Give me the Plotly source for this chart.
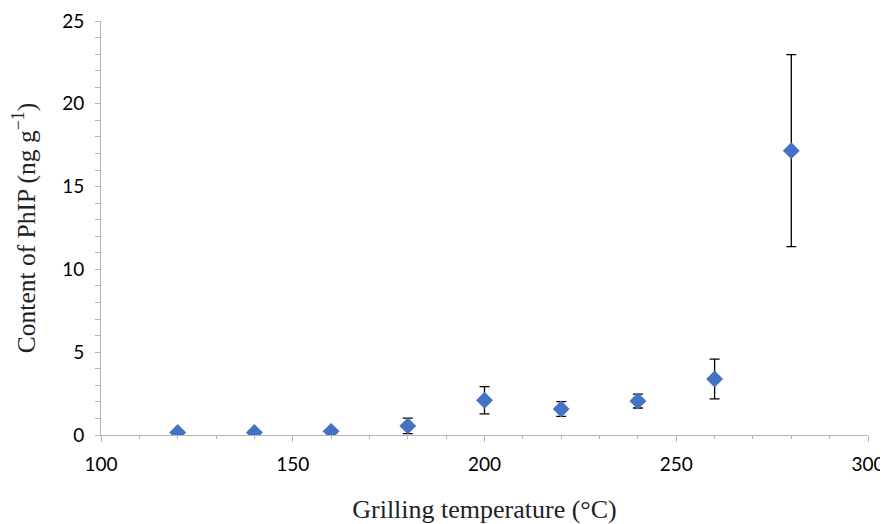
import plotly.graph_objects as go

temps = [120, 140, 160, 180, 200, 220, 240, 260, 280]
phip = [0.15, 0.15, 0.22, 0.55, 2.1, 1.57, 2.05, 3.38, 17.17]
err = [0.0, 0.0, 0.0, 0.47, 0.82, 0.45, 0.42, 1.2, 5.8]

fig = go.Figure()
fig.add_trace(go.Scatter(
    x=temps, y=phip, mode="markers",
    marker=dict(symbol="diamond", size=13, color="#4472C4"),
    error_y=dict(type="data", array=err, visible=True, color="black", thickness=1.3, width=5),
    showlegend=False,
))

axis_color = "#b3b3b3"
# page body has an 8px default margin, so the figure is shifted by 8px; compensate
fig.update_layout(
    width=880, height=516,
    margin=dict(l=93, r=20, t=13, b=89),
    paper_bgcolor="white", plot_bgcolor="white",
    xaxis=dict(
        range=[100, 300], dtick=50, tick0=100, automargin=False,
        showgrid=False, zeroline=False,
        showline=True, linecolor=axis_color, linewidth=1,
        ticks="outside", ticklen=6, tickcolor=axis_color,
        ticklabelstandoff=6,
        minor=dict(dtick=10, ticks="outside", ticklen=3, tickcolor=axis_color, showgrid=False),
        tickfont=dict(family="Lato, Open Sans, sans-serif", size=19, color="black"),
        title=dict(text="Grilling temperature (°C)", standoff=26,
                   font=dict(family="Liberation Serif, DejaVu Serif, serif", size=26, color="#222")),
    ),
    yaxis=dict(
        range=[0, 25], dtick=5, tick0=0, automargin=False,
        showgrid=False, zeroline=False,
        showline=True, linecolor=axis_color, linewidth=1,
        ticks="outside", ticklen=5, tickcolor=axis_color,
        ticklabelstandoff=7,
        minor=dict(dtick=1, ticks="outside", ticklen=5, tickcolor=axis_color, showgrid=False),
        tickfont=dict(family="Lato, Open Sans, sans-serif", size=19, color="black"),
        title=dict(text="Content of PhIP (ng g<sup>−1</sup>)", standoff=38,
                   font=dict(family="Liberation Serif, DejaVu Serif, serif", size=25.5, color="#222")),
    ),
)

fig.write_html("out.html")
